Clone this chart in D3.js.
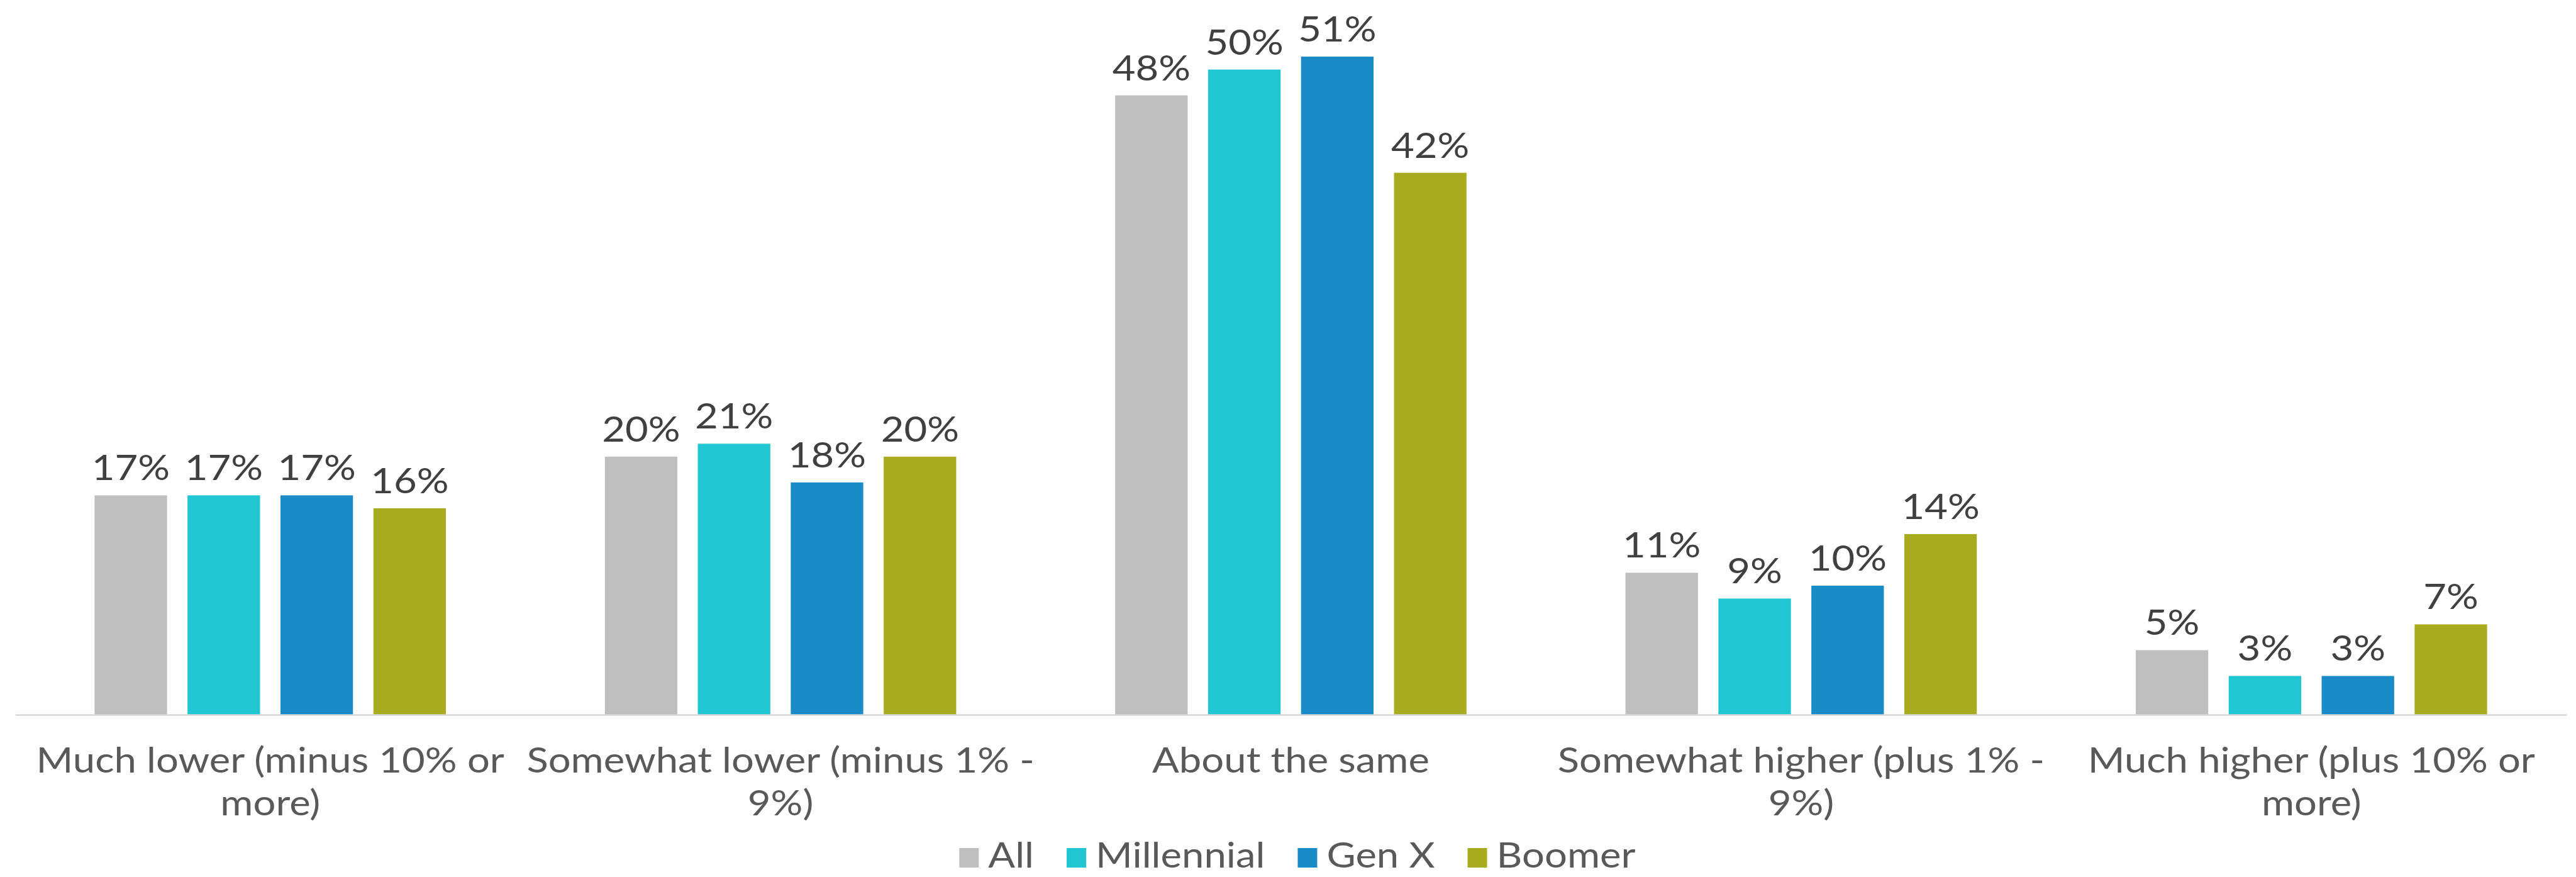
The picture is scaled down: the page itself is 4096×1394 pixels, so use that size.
<!DOCTYPE html>
<html>
<head>
<meta charset="utf-8">
<script src="https://cdn.jsdelivr.net/npm/d3@7"></script>
<style>
  html, body { margin: 0; padding: 0; background: #ffffff; }
  svg { display: block; }
  text { font-family: Lato, "Noto Sans", sans-serif; }
</style>
</head>
<body>
<svg id="chart" width="4096" height="1394"></svg>
<script>
// Expected change in spending, by generation (line breaks marked with \n)
const categories = [
  "Much lower (minus 10% or\nmore)",
  "Somewhat lower (minus 1% -\n9%)",
  "About the same",
  "Somewhat higher (plus 1% -\n9%)",
  "Much higher (plus 10% or\nmore)"
];
const seriesNames = ["All", "Millennial", "Gen X", "Boomer"];
const allValues        = [0.17, 0.20, 0.48, 0.11, 0.05];
const millennialValues = [0.17, 0.21, 0.50, 0.09, 0.03];
const genXValues       = [0.17, 0.18, 0.51, 0.10, 0.03];
const boomerValues     = [0.16, 0.20, 0.42, 0.14, 0.07];
const seriesColors = ["#BFBFBF", "#20C7D3", "#198BC7", "#A9AC20"];

const seriesValues = [allValues, millennialValues, genXValues, boomerValues];
const rows = categories.map((c, i) => ({
  category: c,
  bars: seriesNames.map((s, j) => ({ series: s, value: seriesValues[j][i] }))
}));

const plot = { left: 24, right: 4081, top: 8, bottom: 1136 };
const fontSize = 57;
const svg = d3.select("#chart");

// horizontal proportion of the lettering
const probe = svg.append("text").attr("font-size", fontSize).text("About the same");
const k = 441 / probe.node().getComputedTextLength();
probe.remove();

function placeText(sel, x, y) {
  return sel.attr("x", 0).attr("y", 0)
    .attr("transform", (d, i) => `translate(${x(d, i)},${y(d, i)}) scale(${k},1)`);
}

const x0 = d3.scaleBand().domain(categories).range([plot.left, plot.right])
  .paddingInner(0).paddingOuter(0);
const x1 = d3.scaleBand().domain(seriesNames).range([0, x0.bandwidth()])
  .paddingInner(0.22).paddingOuter(0.855);
const y = d3.scaleLinear().domain([0, 0.55]).range([plot.bottom, plot.top]);
const color = d3.scaleOrdinal().domain(seriesNames).range(seriesColors);
const pct = d3.format(".0%");

// bars
const groups = svg.append("g").selectAll("g").data(rows).join("g")
  .attr("transform", d => `translate(${x0(d.category)},0)`);

groups.selectAll("rect").data(d => d.bars).join("rect")
  .attr("x", d => x1(d.series))
  .attr("width", x1.bandwidth())
  .attr("y", d => y(d.value))
  .attr("height", d => y(0) - y(d.value))
  .attr("fill", d => color(d.series));

// value labels
placeText(
  groups.selectAll("text.value").data(d => d.bars).join("text").attr("class", "value")
    .attr("text-anchor", "middle").attr("font-size", fontSize).attr("fill", "#404040")
    .text(d => pct(d.value)),
  d => x1(d.series) + x1.bandwidth() / 2,
  d => y(d.value) - 24
);

// category axis
const xAxis = svg.append("g").attr("transform", `translate(0,${plot.bottom})`)
  .call(d3.axisBottom(x0).tickSize(0).tickSizeOuter(0).tickFormat(""));
xAxis.select(".domain").attr("stroke", "#D9D9D9").attr("stroke-width", 2.6);

// category labels, one text per line
const catLabels = svg.append("g").selectAll("g").data(categories).join("g")
  .attr("transform", d => `translate(${x0(d) + x0.bandwidth() / 2},0)`);
catLabels.each(function(d) {
  placeText(
    d3.select(this).selectAll("text").data(d.split("\n")).join("text")
      .attr("text-anchor", "middle").attr("font-size", fontSize).attr("fill", "#595959")
      .text(t => t),
    () => 0,
    (t, i) => 1228 + i * 68
  );
});

// legend
const sw = 31, gapText = 15, gapItem = 52, legendY = 1379;
const legend = svg.append("g");
const items = legend.selectAll("g").data(seriesNames).join("g");
items.append("rect").attr("width", sw).attr("height", sw)
  .attr("y", legendY - sw).attr("fill", d => color(d));
const legendTexts = items.append("text").attr("font-size", fontSize).attr("fill", "#595959").text(d => d);
legendTexts.attr("x", 0).attr("y", 0)
  .attr("transform", `translate(${sw + gapText},${legendY}) scale(${k},1)`);
let cursor = 0;
const offsets = [];
legendTexts.each(function() {
  offsets.push(cursor);
  cursor += sw + gapText + this.getComputedTextLength() * k + gapItem;
});
const legendWidth = cursor - gapItem;
const legendStart = 2063 - legendWidth / 2;
items.attr("transform", (d, i) => `translate(${legendStart + offsets[i]},0)`);
</script>
</body>
</html>
